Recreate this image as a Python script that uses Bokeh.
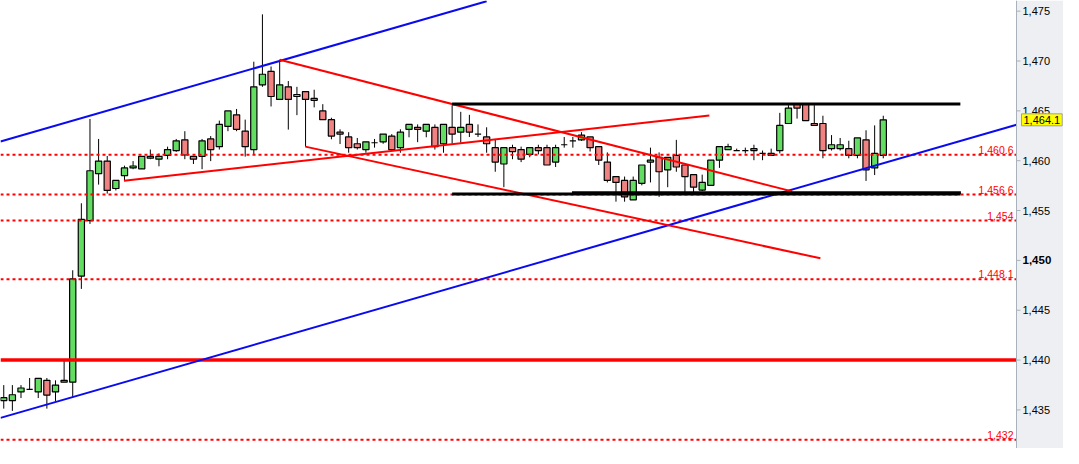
from bokeh.plotting import figure
from bokeh.models import Label, Range1d
from bokeh.embed import file_html
from bokeh.resources import INLINE
from bokeh.core.properties import value

# ---- candle data (OHLC) ----
opens = [1435.94, 1435.94, 1436.81, 1437.07, 1436.81, 1437.97, 1436.81, 1437.78, 1437.78, 1448.43,
         1453.98, 1458.70, 1459.96, 1457.21, 1458.50, 1459.28, 1459.18, 1460.25, 1460.15, 1460.54,
         1461.02, 1462.09, 1460.44, 1460.44, 1462.18, 1461.41, 1463.44, 1464.60, 1462.96, 1461.12,
         1467.61, 1468.96, 1466.15, 1467.41, 1466.44, 1466.93, 1466.06, 1464.99, 1464.12, 1462.86,
         1462.38, 1461.70, 1461.12, 1461.80, 1461.89, 1462.47, 1461.31, 1463.15, 1463.35, 1462.96,
         1463.35, 1461.70, 1463.35, 1462.86, 1463.64, 1462.67, 1462.38, 1461.31, 1459.67, 1461.31,
         1461.12, 1460.63, 1461.31, 1461.31, 1459.86, 1461.60, 1461.99, 1462.09, 1462.38, 1461.41,
         1459.86, 1458.41, 1458.02, 1456.08, 1457.73, 1459.86, 1460.34, 1459.08, 1460.54, 1459.57,
         1458.60, 1457.05, 1457.53, 1460.05, 1461.12, 1461.02, 1461.02, 1461.21, 1460.73, 1460.73,
         1461.02, 1463.73, 1465.67, 1465.67, 1463.73, 1463.73, 1461.21, 1461.21, 1461.21, 1460.54,
         1462.09, 1459.28, 1460.54]
highs = [1437.49, 1437.49, 1437.49, 1438.20, 1438.20, 1438.20, 1437.97, 1439.97, 1449.01, 1455.73,
         1464.18, 1462.18, 1460.47, 1458.02, 1459.50, 1459.96, 1460.44, 1461.12, 1460.73, 1461.41,
         1462.18, 1462.96, 1460.44, 1462.18, 1462.47, 1464.02, 1464.99, 1465.19, 1464.12, 1469.93,
         1474.68, 1469.45, 1470.13, 1467.99, 1467.41, 1466.93, 1467.12, 1465.67, 1464.31, 1463.15,
         1462.86, 1462.28, 1461.89, 1462.18, 1462.67, 1462.67, 1463.15, 1463.64, 1463.64, 1463.64,
         1463.64, 1463.64, 1465.57, 1464.90, 1464.60, 1463.64, 1463.35, 1462.18, 1461.31, 1461.60,
         1461.41, 1461.31, 1461.60, 1461.60, 1461.60, 1462.38, 1462.38, 1462.86, 1462.38, 1461.41,
         1460.83, 1458.41, 1458.41, 1458.41, 1459.57, 1461.31, 1460.83, 1460.34, 1462.09, 1459.57,
         1458.60, 1458.60, 1460.05, 1461.41, 1461.70, 1461.21, 1461.31, 1461.60, 1461.02, 1461.21,
         1464.80, 1465.57, 1465.73, 1465.73, 1465.57, 1464.51, 1462.57, 1462.28, 1462.00, 1462.28,
         1463.05, 1463.54, 1464.51]
lows = [1435.13, 1434.90, 1436.19, 1437.00, 1436.19, 1435.13, 1435.90, 1437.78, 1436.29, 1447.14,
        1453.66, 1457.60, 1456.70, 1457.02, 1458.00, 1459.15, 1459.18, 1460.15, 1459.44, 1460.15,
        1460.89, 1460.15, 1459.67, 1459.15, 1459.96, 1461.12, 1462.96, 1462.96, 1460.41, 1460.60,
        1467.41, 1465.44, 1466.15, 1463.12, 1464.57, 1461.41, 1465.35, 1464.12, 1462.15, 1461.67,
        1460.80, 1461.12, 1460.80, 1461.31, 1461.70, 1460.99, 1460.80, 1462.35, 1461.86, 1462.35,
        1461.12, 1460.80, 1461.70, 1461.80, 1462.38, 1462.38, 1460.80, 1458.89, 1457.34, 1460.15,
        1459.86, 1460.34, 1460.63, 1459.57, 1459.37, 1461.31, 1461.31, 1461.99, 1460.92, 1459.57,
        1457.82, 1455.89, 1455.89, 1456.08, 1457.53, 1457.82, 1456.37, 1457.34, 1458.89, 1456.76,
        1456.76, 1456.95, 1457.53, 1459.28, 1461.12, 1461.02, 1460.73, 1460.05, 1460.05, 1460.54,
        1460.73, 1463.73, 1464.22, 1464.02, 1463.54, 1460.24, 1461.02, 1461.02, 1460.24, 1460.24,
        1457.97, 1458.56, 1460.24]
closes = [1436.23, 1436.52, 1437.20, 1437.07, 1438.16, 1436.49, 1437.49, 1437.97, 1448.14, 1454.11,
          1458.99, 1459.96, 1457.02, 1458.02, 1459.28, 1459.47, 1460.44, 1460.44, 1460.44, 1461.12,
          1461.99, 1460.57, 1460.15, 1461.99, 1461.12, 1463.64, 1464.99, 1463.15, 1461.41, 1467.41,
          1468.67, 1466.44, 1467.61, 1466.15, 1466.64, 1466.15, 1466.25, 1464.12, 1462.47, 1462.67,
          1461.31, 1461.31, 1461.89, 1461.80, 1462.67, 1461.12, 1462.86, 1463.64, 1463.15, 1463.64,
          1461.41, 1463.64, 1462.67, 1463.35, 1462.86, 1462.67, 1461.70, 1459.86, 1461.31, 1460.92,
          1460.15, 1461.31, 1461.02, 1459.57, 1461.31, 1461.60, 1461.99, 1462.57, 1461.31, 1460.05,
          1458.02, 1457.82, 1456.37, 1458.02, 1459.57, 1460.05, 1458.89, 1460.34, 1459.37, 1458.41,
          1457.34, 1457.82, 1460.05, 1461.41, 1461.41, 1461.02, 1461.02, 1461.02, 1460.73, 1460.54,
          1463.54, 1465.28, 1465.28, 1464.02, 1463.54, 1461.02, 1461.60, 1461.60, 1460.54, 1462.28,
          1459.08, 1460.73, 1464.10]

# ---- drawn studies ----
blue_x0 = [-0.377, -0.377]
blue_y0 = [1461.93, 1434.20]
blue_x1 = [56.0, 117.45]
blue_y1 = [1475.99, 1463.60]

red_x0 = [13.94, 32.0, 34.97]
red_y0 = [1457.98, 1470.13, 1461.41]
red_x1 = [81.83, 91.43, 94.71]
red_y1 = [1464.54, 1456.92, 1450.21]

black_x0 = [52.0, 52.0, 65.9]
black_x1 = [110.94, 110.94, 111.0]
black_y = [1465.7, 1456.65, 1456.78]

dotted_levels = [1460.6, 1456.6, 1454.0, 1448.1, 1432.0]
dotted_labels = ["1,460.6", "1,456.6", "1,454", "1,448.1", "1,432"]
solid_level = 1440.0
last_price_label = "1,464.1"
y_ticks = [1435, 1440, 1445, 1455, 1460, 1465, 1470, 1475]
y_tick_labels = ["1,435", "1,440", "1,445", "1,455", "1,460", "1,465", "1,470", "1,475"]
bold_tick = [1450]
bold_tick_label = ["1,450"]

W, H = 1063, 448
PANEL_PX = 47
X_START, X_END = -0.377, 117.45          # price area (index units)
PX_PER_IDX = (W - PANEL_PX) / (X_END - X_START)
X_FULL = X_START + W / PX_PER_IDX        # includes the price-scale panel
Y_START, Y_END = 1431.13, 1476.07
TICK_LEN = 4 / PX_PER_IDX

idx = list(range(len(opens)))
tops = [max(o, c) for o, c in zip(opens, closes)]
bottoms = [min(o, c) for o, c in zip(opens, closes)]
colors = ["#62DD62" if c > o else ("#F08282" if c < o else "black") for o, c in zip(opens, closes)]

p = figure(width=W, height=H, output_backend="svg", toolbar_location=None,
           x_range=Range1d(X_START, X_FULL), y_range=Range1d(Y_START, Y_END),
           x_axis_location=None, y_axis_location=None,
           min_border_left=0, min_border_top=0, min_border_bottom=0, min_border_right=0)
p.xgrid.visible = False
p.ygrid.visible = False
p.outline_line_color = None
p.background_fill_color = "white"
p.border_fill_color = "white"

# candles
p.segment(x0=idx, y0=lows, x1=idx, y1=highs, line_color="black", line_width=1)
p.vbar(x=idx, width=0.72, top=tops, bottom=bottoms, fill_color=colors,
       line_color="black", line_width=1.2)

# horizontal levels
n = len(dotted_levels)
p.segment(x0=[X_START] * n, y0=dotted_levels, x1=[X_END] * n, y1=dotted_levels,
          line_color="#FF0000", line_width=2, line_dash="3 3")
p.segment(x0=[X_START], y0=[solid_level], x1=[X_END], y1=[solid_level],
          line_color="#FF0000", line_width=3.5)

# trend lines
p.segment(x0=blue_x0, y0=blue_y0, x1=blue_x1, y1=blue_y1, line_color="#0A0AF0", line_width=2)
p.segment(x0=red_x0, y0=red_y0, x1=red_x1, y1=red_y1, line_color="#FF0000", line_width=2)
p.segment(x0=black_x0, y0=black_y, x1=black_x1, y1=black_y, line_color="black", line_width=3)

# level labels
p.text(x=[X_END] * n, y=dotted_levels, text=dotted_labels, x_offset=-3, y_offset=-1,
       text_align="right", text_baseline="bottom", text_color="#FF0000",
       text_font=value("Liberation Sans"), text_font_size="10.5px")

# price-scale panel
p.quad(left=[X_END], right=[X_FULL], bottom=[Y_START], top=[Y_END],
       fill_color="#EEEFF3", line_color=None)
p.segment(x0=[X_END], y0=[Y_START], x1=[X_END], y1=[Y_END], line_color="#A9B1BA", line_width=1)
all_ticks = y_ticks + bold_tick
p.segment(x0=[X_END] * len(all_ticks), y0=all_ticks, x1=[X_END + TICK_LEN] * len(all_ticks),
          y1=all_ticks, line_color="#A9B1BA", line_width=1)
p.text(x=[X_END] * len(y_ticks), y=y_ticks, text=y_tick_labels, x_offset=6,
       text_align="left", text_baseline="middle", text_color="black",
       text_font=value("Liberation Sans"), text_font_size="11px")
p.text(x=[X_END], y=bold_tick, text=bold_tick_label, x_offset=6,
       text_align="left", text_baseline="middle", text_color="black",
       text_font=value("Liberation Sans"), text_font_size="11.5px", text_font_style="bold")

# last price box
p.add_layout(Label(x=X_END, y=closes[-1], x_offset=5, text=last_price_label,
                   text_baseline="middle", text_font="Liberation Sans",
                   text_font_size="11px", text_color="black",
                   background_fill_color="#FFFF00", border_line_color="#A0A0A0",
                   padding=2))

open("out.html", "w").write(file_html(p, INLINE))
